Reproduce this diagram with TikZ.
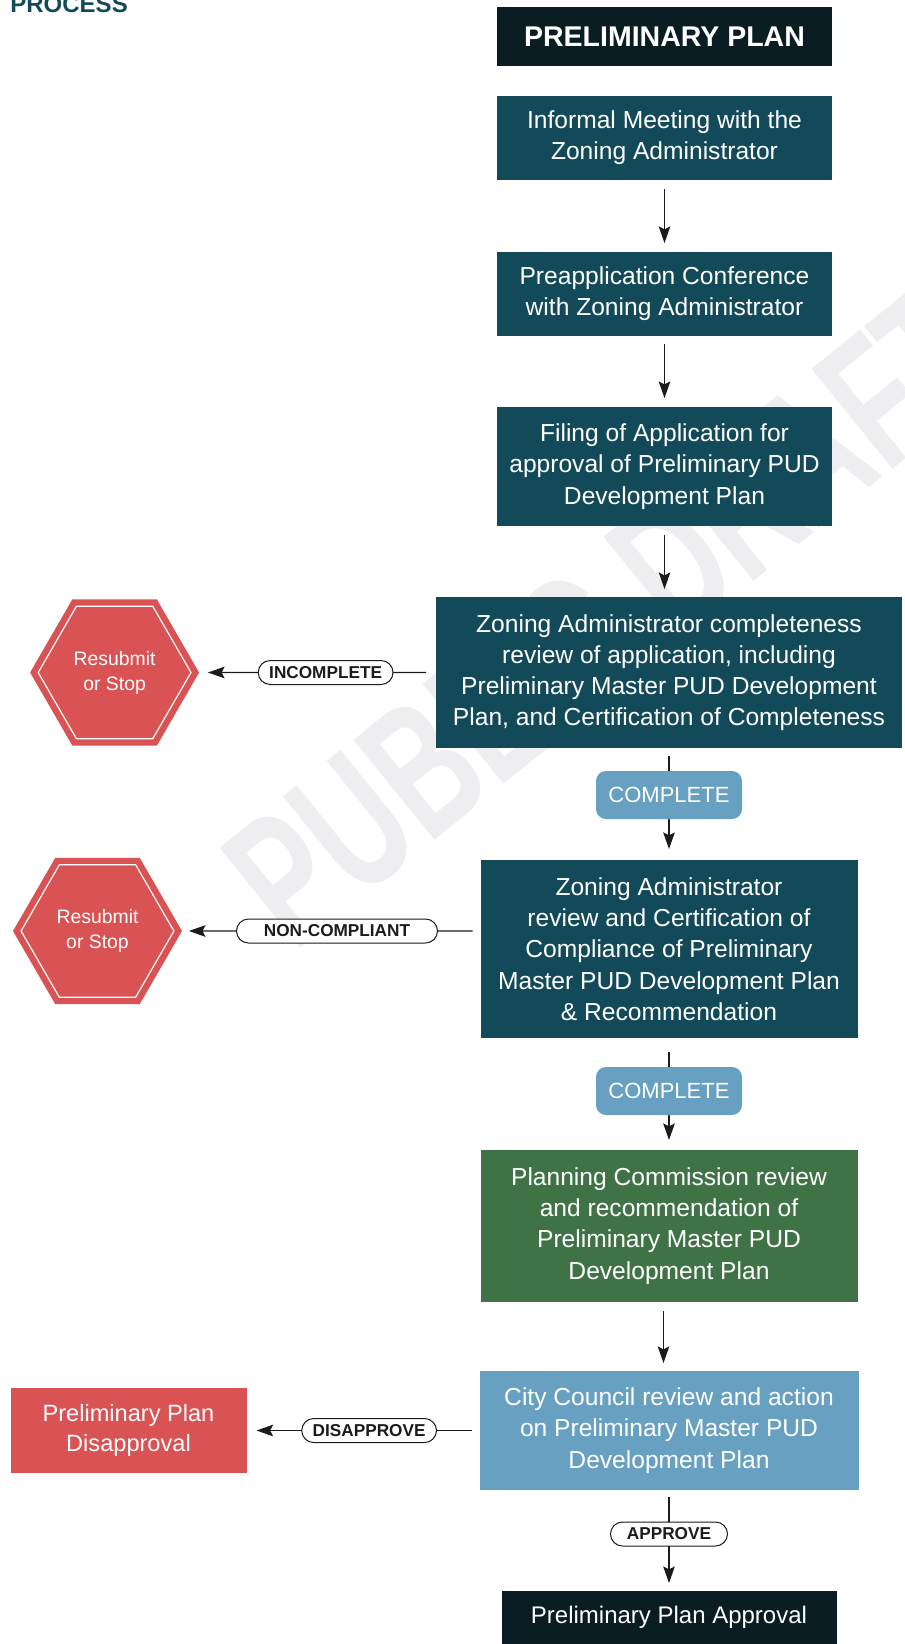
\documentclass[tikz,border=0pt]{standalone}
\usepackage{fontspec}
\setmainfont{Liberation Sans}
\newfontfamily\wmfont[FakeStretch=0.66]{Liberation Sans}
\usetikzlibrary{arrows.meta,positioning,shapes.geometric,calc,backgrounds}
\definecolor{zteal}{HTML}{134A59}
\definecolor{zdark}{HTML}{0A1D23}
\definecolor{zgreen}{HTML}{3F7346}
\definecolor{zsky}{HTML}{68A0C1}
\definecolor{zred}{HTML}{D95354}
\definecolor{zink}{HTML}{1B1B1B}
\definecolor{zwm}{HTML}{EEEEF0}
\tikzset{
  box/.style={align=center,inner sep=2pt,outer sep=0pt,text=white,minimum width=167.5pt},
  proc/.style={box,fill=zteal},
  ext/.style={box,fill=zgreen},
  cc/.style={box,fill=zsky},
  head/.style={box,fill=zdark,font=\bfseries\fontsize{14.25}{17}\selectfont},
  okpill/.style={box,fill=zsky,rounded corners=5pt,minimum width=73pt,minimum height=24pt,font=\fontsize{11}{13}\selectfont},
  halt/.style={regular polygon,regular polygon sides=6,minimum size=76.4pt,inner sep=0pt,outer sep=0pt,fill=zred,draw=white,line width=0.6pt,preaction={draw=zred,line width=7pt},text=white,align=center,font=\fontsize{9.7}{12.5}\selectfont},
  nogo/.style={box,fill=zred,minimum width=118pt,minimum height=42.5pt,font=\fontsize{11.8}{15}\selectfont},
  cond/.style={draw=zink,line width=0.5pt,fill=white,rounded corners=6pt,minimum height=12pt,inner xsep=5.5pt,inner ysep=0pt,outer sep=0pt,text=zink,font=\bfseries\fontsize{8.6}{10}\selectfont},
  arr/.style={draw=zink,line width=0.7pt,-{Stealth[length=8.3pt,width=5.8pt,inset=1.5pt]}},
  wmark/.style={inner sep=0pt,text=zwm,font=\wmfont\bfseries\fontsize{93.5}{100}\selectfont}
}

\begin{document}
\begin{tikzpicture}[node distance=36pt,font=\fontsize{12.3}{15.6}\selectfont]
\useasboundingbox (0,0) rectangle (452.5pt,-822pt);
\node[text=zteal,anchor=base west,inner sep=0pt,font=\bfseries\fontsize{12}{14}\selectfont] (proc) at (5pt,-6pt) {PROCESS};
\node[head,minimum height=29.5pt] (hd) at (332.25pt,-18.25pt) {PRELIMINARY PLAN};
\node[proc,below=15pt of hd,minimum height=42pt] (meet) {Informal Meeting with the\\Zoning Administrator};
\node[proc,below=of meet,minimum height=42pt] (conf) {Preapplication Conference\\with Zoning Administrator};
\node[proc,below=35.5pt of conf,minimum height=59.5pt] (file) {Filing of Application for\\approval of Preliminary PUD\\Development Plan};
\node[proc,below=35.5pt of file,xshift=2.25pt,minimum width=233pt,minimum height=75.5pt] (check) {Zoning Administrator completeness\\review of application, including\\Preliminary Master PUD Development\\Plan, and Certification of Completeness};
\node[okpill,below=11.5pt of check] (ok1) {COMPLETE};
\node[proc,below=20.5pt of ok1,minimum width=188.5pt,minimum height=89pt] (comply) {Zoning Administrator\\review and Certification of\\Compliance of Preliminary\\Master PUD Development Plan\\\& Recommendation};
\node[okpill,below=14.5pt of comply] (ok2) {COMPLETE};
\node[ext,below=17.5pt of ok2,minimum width=188.5pt,minimum height=76pt] (plan) {Planning Commission review\\and recommendation of\\Preliminary Master PUD\\Development Plan};
\node[cc,below=34.5pt of plan,minimum width=189.5pt,minimum height=59.5pt] (council) {City Council review and action\\on Preliminary Master PUD\\Development Plan};
\node[cond,below=16pt of council,minimum width=58.5pt] (yes) {APPROVE};
\node[head,below=22.5pt of yes,minimum height=26.5pt,font=\fontsize{12}{14}\selectfont] (final) {Preliminary Plan Approval};
\node[halt,left=122.5pt of check] (redo1) {Resubmit\\or Stop};
\node[halt,left=153.3pt of comply,yshift=9pt] (redo2) {Resubmit\\or Stop};
\node[nogo,left=116.5pt of council] (deny) {Preliminary Plan\\Disapproval};
\node[cond,left=21.5pt of check] (t1) {INCOMPLETE};
\node[cond,left=21.5pt of comply,yshift=9pt,minimum width=100.5pt] (t2) {NON-COMPLIANT};
\node[cond,left=21.5pt of council] (t3) {DISAPPROVE};
\begin{scope}[on background layer]
\node[wmark,rotate=39,anchor=base west] (wm) at (147.3pt,-476.9pt) {PUBLIC DRAFT};
\draw[arr,shorten <=4.5pt,shorten >=4.5pt] (meet) -- (conf);
\draw[arr,shorten <=4pt,shorten >=4.5pt] (conf) -- (file);
\draw[arr,shorten <=4.5pt,shorten >=4pt] (file.south) -- (file.south |- check.north);
\draw[arr,shorten <=4pt,shorten >=5.5pt] (check.south) -- (check.south |- comply.north);
\draw[arr,shorten <=7pt,shorten >=5pt] (comply.south) -- (comply.south |- plan.north);
\draw[arr,shorten <=4.5pt,shorten >=4pt] ([xshift=-2.75pt]plan.south) -- ([xshift=-2.75pt]plan.south |- council.north);
\draw[arr,shorten <=3.5pt,shorten >=4pt] (council) -- (final);
\draw[arr,shorten <=5pt,shorten >=8.5pt] (check) -- (redo1);
\draw[arr,shorten <=4pt,shorten >=7.5pt] (comply.west |- redo2) -- (redo2);
\draw[arr,shorten <=4pt,shorten >=5pt] (council) -- (deny);
\end{scope}
\end{tikzpicture}
\end{document}
